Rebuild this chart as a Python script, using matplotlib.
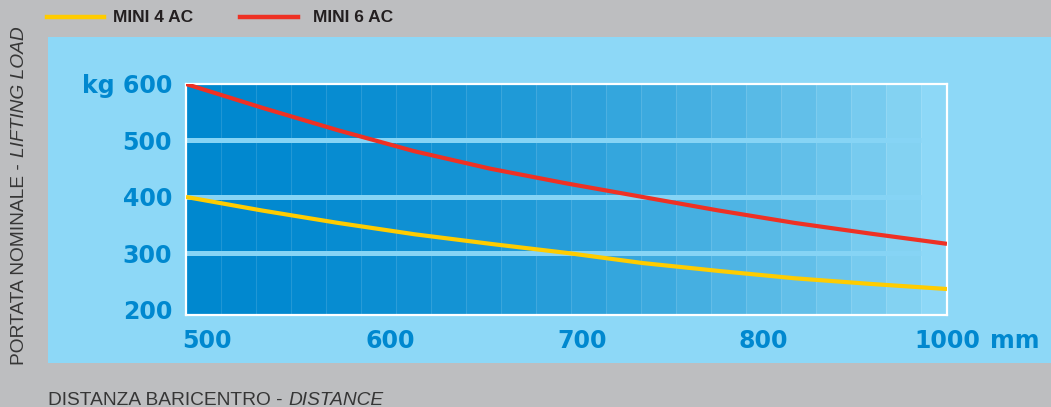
##########################################################################
#       lifting load vs distance chart  (MINI 4 AC / MINI 6 AC)
##########################################################################

import numpy as np
import matplotlib
matplotlib.use('Agg')
import matplotlib.pyplot as plt
from matplotlib import font_manager
from matplotlib.lines import Line2D
from matplotlib.patches import Rectangle

################### *** data *** #########################################

dist  = [500, 550, 600, 650, 700, 750, 800, 850, 900, 950, 1000]
mini4 = [400, 376, 354, 334, 317, 301, 283, 269, 256, 246, 237]
mini6 = [600, 558, 518, 481, 450, 424, 400, 376, 354, 335, 317]

series = ['MINI 4 AC', 'MINI 6 AC']

ytick_vals = [200, 300, 400, 500, 600]
ytick_labs = ['200', '300', '400', '500', 'kg 600']
grid_vals  = [300, 400, 500]

xtick_labs = ['500', '600', '700', '800', '1000']
xtick_pos  = [514, 634, 760, 879, 1000]
xtick_mark = [634, 760, 879]

################### *** style *** ########################################

W, H = 1051, 407
grey  = '#bdbec0'
panel = '#8dd8f7'
blue  = '#0088cf'
dark  = '#231f20'
yel   = '#ffcc00'
red   = '#ee3124'

names = set(f.name for f in font_manager.fontManager.ttflist)
if 'Liberation Sans Narrow' in names:
    cond = 'Liberation Sans Narrow'; fscl = 1.0
else:
    cond = 'Liberation Sans'; fscl = 0.86

################### *** plot *** #########################################

fig = plt.figure(figsize=(W/100., H/100.), dpi=100, facecolor=grey)
fig.add_artist(Rectangle((48./W, 1-363./H), 1-48./W, (363-37.)/H,
                         transform=fig.transFigure, color=panel, lw=0, zorder=0))

ax = fig.add_axes([186./W, 1-315./H, (947-186.)/W, (315-84.)/H])
ax.set_facecolor(panel)
ax.set_xlim(500, 1000)
ax.set_ylim(191, 600)

# shaded vertical bands, dark to light
nb = 21
bw = 35./761*500
edges = 500 + np.arange(nb+1)*bw
c0 = np.array([0, 136, 207])/255.
c1 = np.array([131, 210, 242])/255.
for i in range(nb):
    t = i/(nb-1.)
    ax.axvspan(edges[i], edges[i+1], color=c0 + (c1-c0)*t**1.8, lw=0, zorder=0)
ax.vlines(edges[1:], 191, 600, color='white', alpha=0.12, lw=0.8, zorder=0.5)
ax.hlines(grid_vals, 500, edges[-1], color='#86d4f5', lw=3.6, zorder=1)

ax.plot(dist, mini4, color=yel, lw=3, solid_capstyle='butt', zorder=3)
ax.plot(dist, mini6, color=red, lw=3, solid_capstyle='butt', zorder=3)

for s in ax.spines.values():
    s.set_color('white'); s.set_linewidth(1.6)

ax.set_yticks(ytick_vals, ytick_labs, fontweight='bold')
ax.tick_params(axis='y', length=0, pad=10, labelsize=17, labelcolor=blue)
ax.set_xticks(xtick_pos, xtick_labs, fontweight='bold')
ax.tick_params(axis='x', length=0, pad=10, labelsize=17, labelcolor=blue)
ax.set_xticks(xtick_mark, minor=True)
ax.tick_params(axis='x', which='minor', direction='in', length=6, width=1.6,
               color='white')
ax.annotate('mm', xy=(1000, 191), xycoords='data', xytext=(31, -10),
            textcoords='offset points', ha='left', va='top', fontsize=17,
            fontweight='bold', color=blue, annotation_clip=False)

# legend on the grey strip
lx = [(47, 104, 113), (240, 298, 313)]
for (a, b, tx), col, nm in zip(lx, [yel, red], series):
    fig.add_artist(Line2D([a/float(W), b/float(W)], [1-17./H, 1-17./H],
                          color=col, lw=3.2, transform=fig.transFigure))
    fig.text(tx/float(W), 1-18./H, nm, family=[cond, 'DejaVu Sans'],
             fontweight='bold', fontsize=14.5*fscl, color=dark, va='center')

# axis titles, upright + italic parts
tc = '#363636'
fs = 16*fscl
t1 = fig.text(20./W, 1-365./H, 'PORTATA NOMINALE -', rotation=90,
              ha='center', va='bottom', family=cond, fontsize=fs, color=tc)
t3 = fig.text(48./W, 2./H, 'DISTANZA BARICENTRO -', ha='left',
              va='baseline', family=cond, fontsize=fs, color=tc)
fig.canvas.draw()
inv = fig.transFigure.inverted()
bb1 = t1.get_window_extent()
bb3 = t3.get_window_extent()
fig.text(20./W, inv.transform((0, bb1.y1 + 6))[1], 'LIFTING LOAD', rotation=90,
         ha='center', va='bottom', family=cond, style='italic', fontsize=fs,
         color=tc)
fig.text(inv.transform((bb3.x1 + 6, 0))[0], 2./H, 'DISTANCE', ha='left',
         va='baseline', family=cond, style='italic', fontsize=fs, color=tc)

plt.savefig('out.png', dpi=100, facecolor=grey)
plt.close()
